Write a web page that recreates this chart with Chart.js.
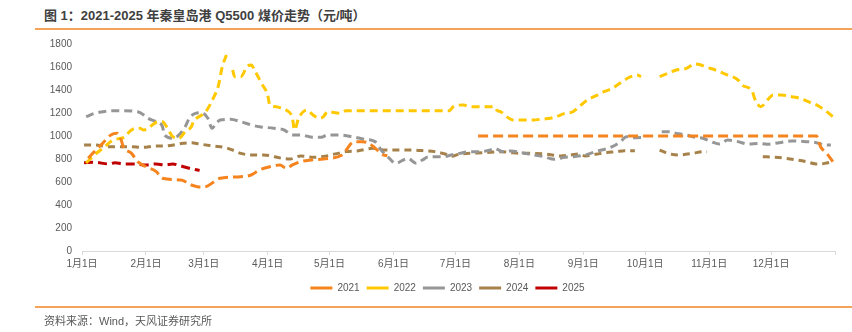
<!DOCTYPE html>
<html>
<head>
<meta charset="utf-8">
<script src="https://cdn.jsdelivr.net/npm/chart.js@4/dist/chart.umd.min.js"></script>
<style>
  html, body { margin: 0; padding: 0; background: #ffffff; }
  #wrap { position: relative; width: 852px; height: 332px; overflow: hidden;
          font-family: "Liberation Sans", "Noto Sans CJK SC", sans-serif; }
  #chart { position: absolute; left: 0; top: 0; }
  .title { position: absolute; left: 44px; top: 7px; font-size: 13px; font-weight: bold;
           color: #404040; white-space: nowrap; line-height: 18px; }
  .rule { position: absolute; left: 35px; right: 0; height: 2px; background: #F5A35A; }
  .source { position: absolute; left: 44px; top: 313px; font-size: 11px; color: #595959;
            white-space: nowrap; line-height: 16px; }
</style>
</head>
<body>
<div id="wrap">
  <div class="title">图 1：2021-2025 年秦皇岛港 Q5500 煤价走势（元/吨）</div>
  <div class="rule" style="top:28px"></div>
  <canvas id="chart" width="852" height="332"></canvas>
  <div class="rule" style="top:306px"></div>
  <div class="source">资料来源：Wind，天风证券研究所</div>
</div>
<script>
// Day of year (0 = 1月1日) and price in 元/吨; null marks a break in the series
const days2021 = [3,6,10,14,17,19,20,24,27,31,36,39,48,53,56,59,67,77,82,86,91,96,99,102,106,111,117,126,132,136,139,142,146,148,170,192,356,358,361,364];
const price2021 = [806,864,936,1009,1023,965,907,849,777,733,690,632,617,574,559,556,632,646,661,704,733,748,719,748,777,791,800,835,951,951,936,896,835,830,null,1000,1000,907,849,777];

const days2022 = [2,6,9,11,15,19,21,23,26,28,30,37,39,41,44,47,50,53,54,60,64,66,68,70,71,73,74,77,80,82,84,87,90,91,94,97,99,102,103,105,109,112,115,117,119,125,128,178,180,185,188,200,201,203,207,209,219,222,227,230,234,238,241,242,245,250,253,257,263,266,269,271,275,280,284,288,293,297,300,303,307,313,318,320,325,326,329,333,335,339,344,348,352,356,360,364];
const price2022 = [765,835,878,907,965,980,994,1038,1067,1067,1052,1124,1124,1081,994,980,1038,1081,1124,1211,1342,1429,1603,1704,null,1574,1516,1516,1603,1617,1559,1458,1357,1270,1255,1241,1226,1154,1052,1154,1226,1183,1154,1168,1211,1197,1220,1220,1255,1270,1255,1255,1226,1211,1154,1139,1139,1145,1154,1168,1197,1211,1255,1270,1313,1357,1385,1414,1487,1516,1530,1516,null,1516,1545,1574,1588,1626,1617,1597,1574,1530,1487,1443,1385,1328,1255,1328,1357,1357,1342,1328,1299,1270,1226,1168];

const days2023 = [2,6,10,14,19,27,30,32,36,39,40,44,47,50,52,55,58,61,63,65,67,72,77,82,86,93,98,102,106,112,116,119,124,131,137,142,145,149,152,158,162,165,168,175,179,183,188,193,198,200,204,208,213,219,224,229,234,238,244,249,257,261,264,267,273,276,281,284,288,293,297,301,305,309,313,318,323,328,332,338,344,351,356,360,363];
const price2023 = [1168,1197,1211,1220,1220,1211,1183,1154,1124,1081,1009,980,1009,1081,1154,1197,1203,1154,1067,1110,1139,1145,1124,1096,1081,1067,1052,1009,1009,989,989,1009,1009,994,971,951,878,806,762,806,762,791,820,820,835,849,864,864,878,893,864,870,855,835,820,797,815,820,835,864,907,951,994,985,989,null,1038,1038,1023,1009,989,980,951,930,965,951,930,936,928,942,957,951,942,922,922];

const days2024 = [1,6,13,19,24,29,36,40,49,53,57,64,69,73,77,82,88,97,101,106,112,118,128,134,141,147,154,160,166,171,176,179,183,188,195,203,208,213,219,225,232,237,241,244,249,254,259,263,268,272,280,284,289,296,301,303,320,330,336,341,351,356,360,364];
const price2024 = [922,922,907,907,907,901,913,913,936,942,930,913,901,878,849,835,835,806,800,826,815,825,864,872,893,878,878,878,872,864,843,823,843,849,855,864,855,849,849,843,826,835,843,826,841,855,864,872,872,null,878,849,835,849,864,864,null,820,815,806,777,757,762,777];

const days2025 = [1,6,13,16,20,25,31,36,40,44,48,52,56,57];
const price2025 = [768,771,757,768,757,757,748,757,748,757,739,719,704,700];

// Month-start positions on the day axis and their labels
const monthDays = [0,31,59,90,120,151,181,212,243,273,304,334,365];
const monthLabels = ['1月1日','2月1日','3月1日','4月1日','5月1日','6月1日','7月1日','8月1日','9月1日','10月1日','11月1日','12月1日',''];

const yearLabels = ['2021','2022','2023','2024','2025'];
const colors = ['#F5841F','#FFC800','#969696','#A6824A','#C00000'];
const dashes = [[10,5],[8,5],[8,5],[7,5],[9,5]];

const toPoints = (d, v) => d.map((x, i) => ({ x: x, y: v[i] }));
const series = [
  toPoints(days2021, price2021),
  toPoints(days2022, price2022),
  toPoints(days2023, price2023),
  toPoints(days2024, price2024),
  toPoints(days2025, price2025)
];

const FONT = '"Liberation Sans", "Noto Sans CJK SC", sans-serif';

// Centre the legend under the plot area rather than the whole canvas
const legendShift = {
  id: 'legendShift',
  afterLayout(chart) {
    if (chart.legend) { chart.legend.left = 60; }
  }
};

new Chart(document.getElementById('chart'), {
  type: 'line',
  plugins: [legendShift],
  data: {
    datasets: series.map((pts, i) => ({
      label: yearLabels[i],
      data: pts,
      borderColor: colors[i],
      backgroundColor: colors[i],
      borderWidth: 3,
      borderDash: dashes[i],
      pointRadius: 0,
      fill: false,
      spanGaps: false,
      cubicInterpolationMode: 'monotone'
    }))
  },
  options: {
    responsive: false,
    animation: false,
    devicePixelRatio: 1,
    layout: { padding: { top: 44, left: 40, right: 17, bottom: 29 } },
    scales: {
      x: {
        type: 'linear',
        min: 0,
        max: 365,
        afterBuildTicks: (scale) => { scale.ticks = monthDays.map(v => ({ value: v })); },
        afterFit: (scale) => { scale.height = 25; },
        ticks: {
          autoSkip: false,
          maxRotation: 0,
          padding: 3,
          color: '#595959',
          font: { family: FONT, size: 10 },
          callback: (value) => {
            const k = monthDays.indexOf(value);
            return k >= 0 ? monthLabels[k] : '';
          }
        },
        grid: { drawOnChartArea: false, drawTicks: true, tickLength: 4, color: '#D9D9D9' },
        border: { display: true, color: '#D9D9D9', width: 1 }
      },
      y: {
        min: 0,
        max: 1800,
        afterFit: (scale) => { scale.width = 42; },
        ticks: {
          stepSize: 200,
          padding: 10,
          color: '#595959',
          font: { family: FONT, size: 10 },
          callback: (value) => String(value)
        },
        grid: { display: false, drawTicks: false },
        border: { display: false }
      }
    },
    plugins: {
      title: { display: false },
      tooltip: { enabled: false },
      legend: {
        display: true,
        position: 'bottom',
        labels: {
          boxWidth: 22,
          boxHeight: 3,
          padding: 7,
          color: '#595959',
          font: { family: FONT, size: 10 },
          generateLabels: (chart) => chart.data.datasets.map((ds, i) => ({
            text: ds.label,
            fillStyle: ds.borderColor,
            strokeStyle: ds.borderColor,
            lineWidth: 0,
            lineDash: [],
            hidden: false,
            datasetIndex: i,
            fontColor: '#595959'
          }))
        }
      }
    }
  }
});
</script>
</body>
</html>
